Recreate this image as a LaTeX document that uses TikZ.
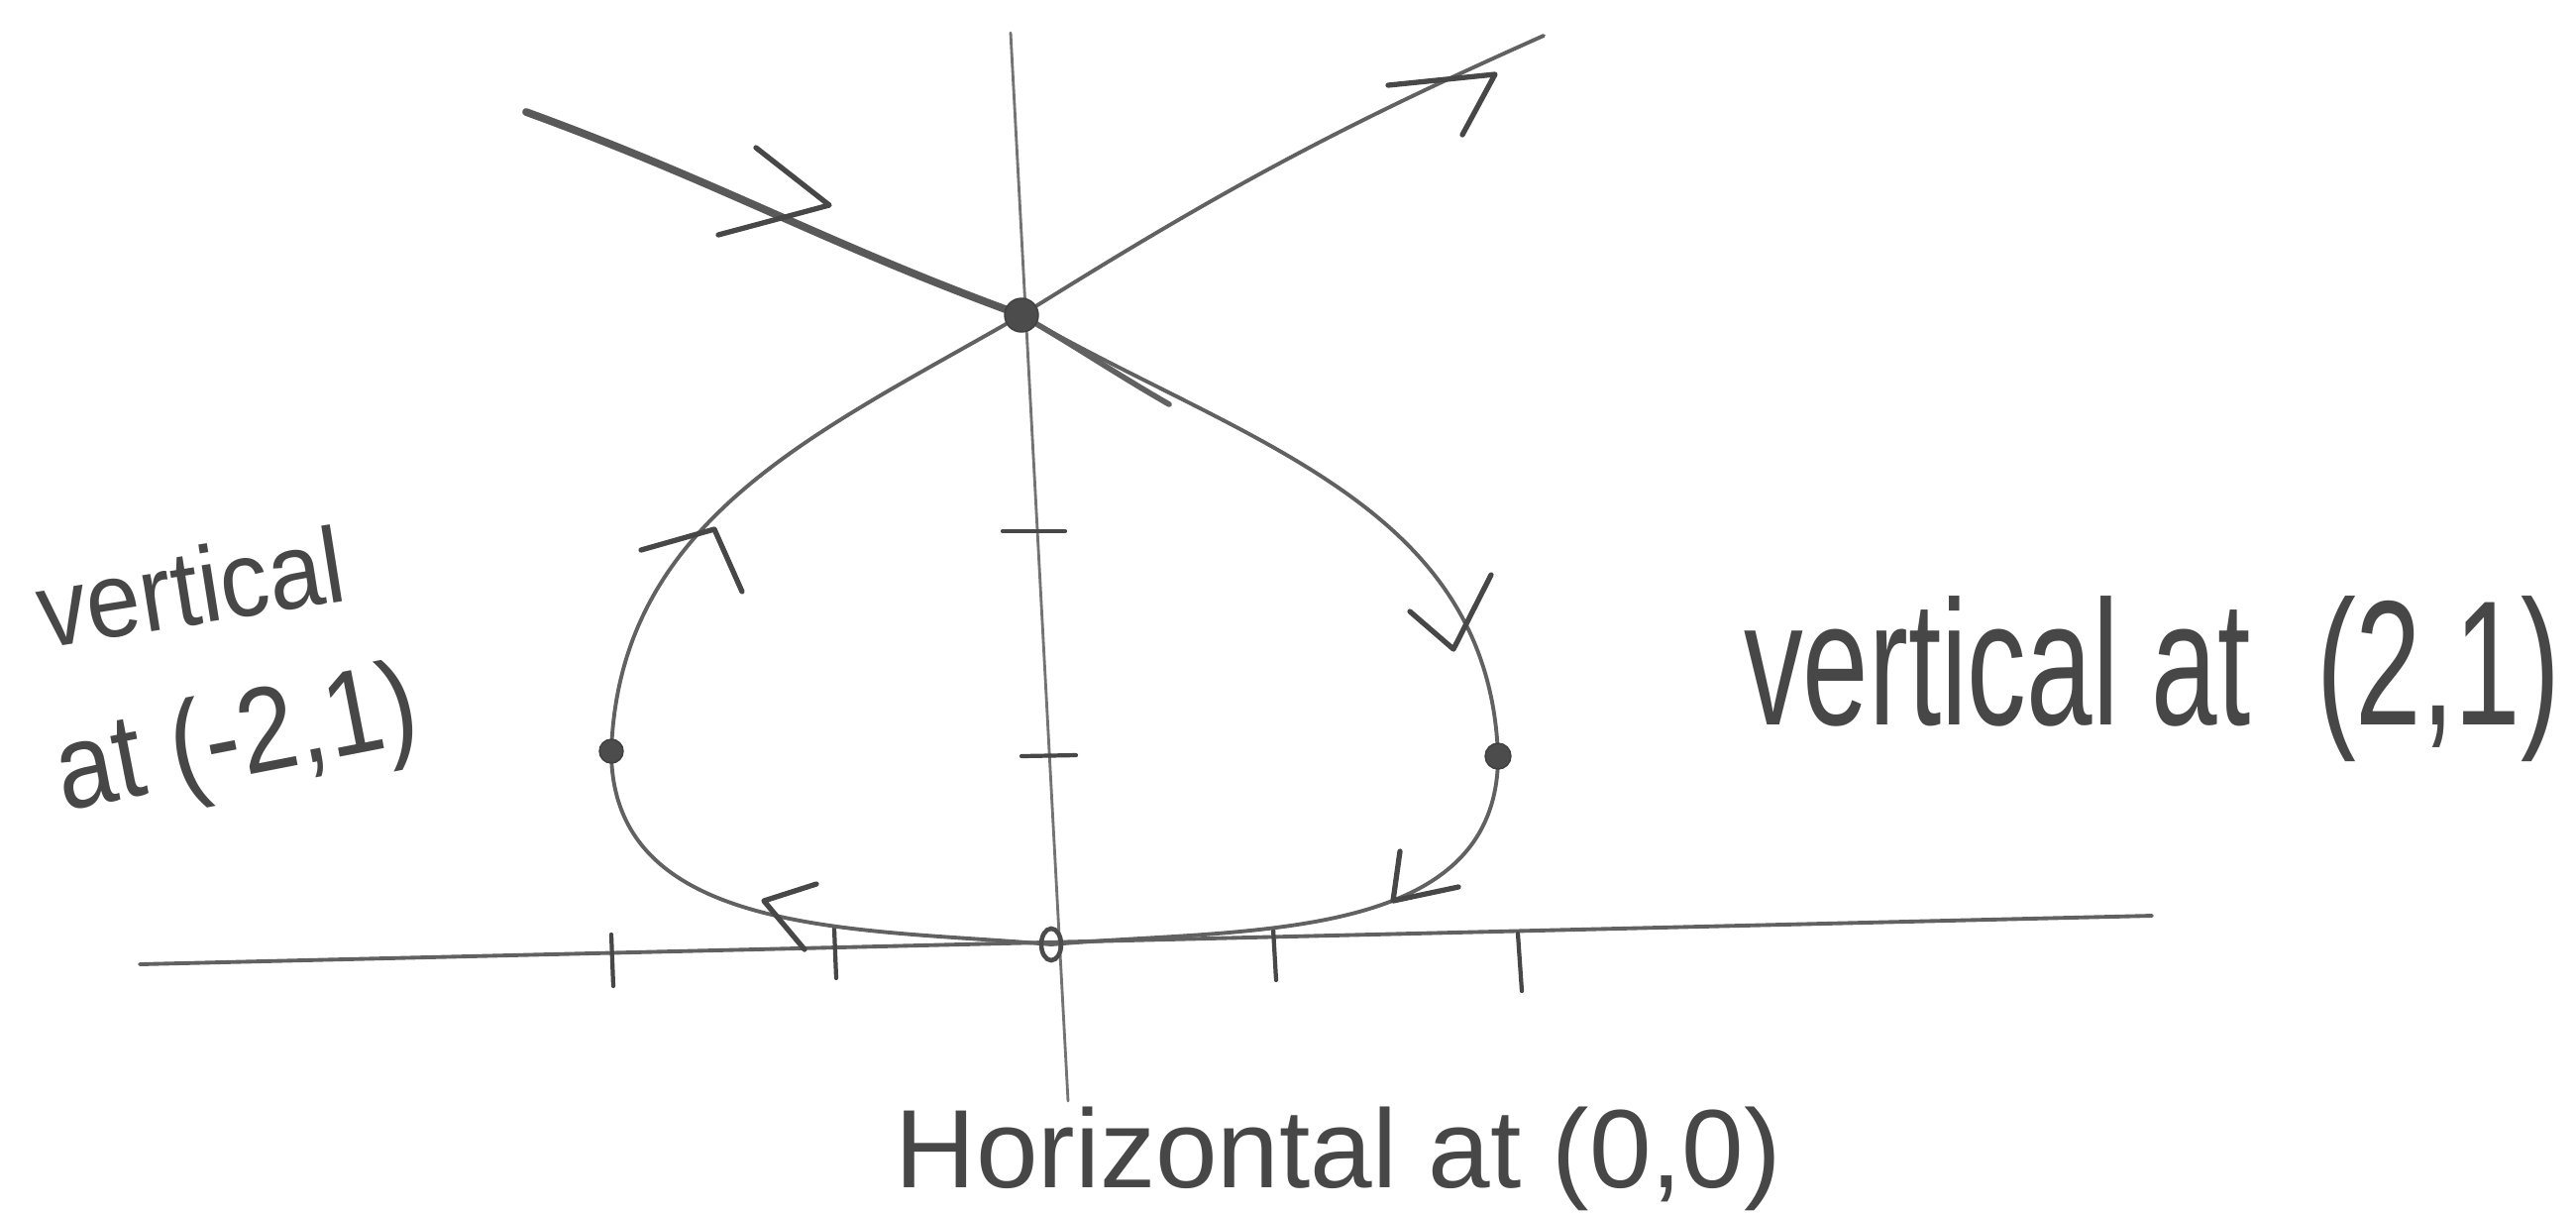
\documentclass[tikz,border=0pt]{standalone}
\usepackage{fontspec}
\setmainfont{Liberation Sans}
\begin{document}
\begin{tikzpicture}[x=0.01cm,y=0.01cm,
  pencil/.style={draw=black!62, line width=1.1pt, line cap=round, line join=round},
  thinpen/.style={draw=black!55, line width=0.8pt, line cap=round},
  barb/.style={draw=black!72, line width=1.5pt, line cap=round, line join=round},
  dot/.style={circle, fill=black!70, draw=black!75, inner sep=0pt},
  hand/.style={text=black!72, inner sep=0pt}]
\useasboundingbox (0,-1223) rectangle (2600,0);
\fill[white] (0,-1223) rectangle (2600,0);
% axes
\coordinate (vtop) at (1020,-33);
\coordinate (vbot) at (1078,-1111);
\coordinate (hl) at (141,-973);
\coordinate (hr) at (2172,-924);
\draw[thinpen] (vtop) -- (vbot);
\draw[pencil] (hl) -- (hr);
% ticks
\draw[barb, line width=1.2pt] (617,-943) -- (619,-995);
\draw[barb, line width=1.2pt] (842,-937) -- (844,-987);
\draw[barb, line width=1.2pt] (1285,-937) -- (1288,-989);
\draw[barb, line width=1.2pt] (1532,-942) -- (1536,-1000);
\draw[barb, line width=1.2pt] (1012,-536) -- (1075,-536);
\draw[barb, line width=1.2pt] (1031,-763) -- (1086,-762);
% curve points
\coordinate (A) at (531,-113);
\coordinate (P) at (1031,-318);
\coordinate (RD) at (1512,-763);
\coordinate (O) at (1061,-953);
\coordinate (LD) at (617,-758);
\coordinate (E) at (1558,-36);
\draw[pencil, line width=2.2pt, draw=black!65] (A) to[out=-20,in=160] (P);
\draw[pencil, line width=1.6pt] (P) to[out=-30,in=150] (1180,-408);
\draw[pencil] (P) to[out=-30,in=92] (RD) to[out=-90,in=5] (O)
  to[out=175,in=-90] (LD) to[out=88,in=-150] (P) to[out=32,in=-156] (E);
% arrowheads
\draw[barb] (763,-149) -- (837,-207) -- (725,-237);
\draw[barb] (1401,-86) -- (1509,-75) -- (1476,-136);
\draw[barb] (647,-555) -- (721,-534) -- (749,-597);
\draw[barb] (1423,-617) -- (1467,-655) -- (1505,-580);
\draw[barb] (1413,-859) -- (1406,-909) -- (1472,-895);
\draw[barb] (824,-892) -- (771,-909) -- (812,-958);
% dots
\node[dot, minimum size=0.34cm] (Pdot) at (P) {};
\node[dot, minimum size=0.24cm] (LDdot) at (LD) {};
\node[dot, minimum size=0.26cm] (RDdot) at (RD) {};
\draw[draw=black!70, line width=1.3pt] (O) ellipse [x radius=0.1cm, y radius=0.16cm];
% labels
\node[hand, rotate=9] (lab1) at (192,-592) {\scalebox{1}[1.1]{\fontsize{28}{33}\selectfont vertical}};
\node[hand, rotate=11] (lab2) at (240,-752) {\scalebox{1}[1.15]{\fontsize{30}{35}\selectfont at (-2,1)}};
\node[hand] (lab3) at (2172,-685) {\scalebox{1}[1.5]{\fontsize{34}{40}\selectfont vertical at \ (2,1)}};
\node[hand] (lab4) at (1351,-1169) {\fontsize{32}{38}\selectfont Horizontal at (0,0)};
\end{tikzpicture}
\end{document}
